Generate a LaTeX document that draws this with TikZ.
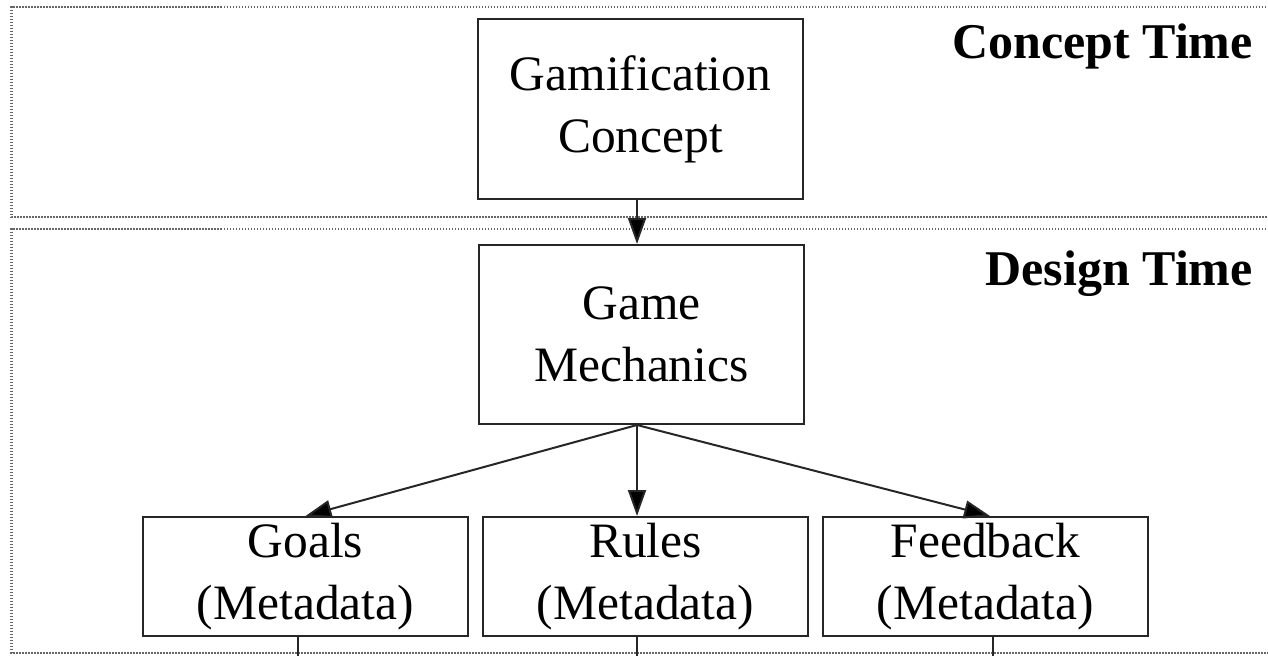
\documentclass[tikz,border=0pt]{standalone}
\usepackage{fontspec}
\setmainfont{Liberation Serif}
\usetikzlibrary{arrows.meta,calc}

\tikzset{
  box/.style={draw=black!85, line width=2pt, inner sep=0pt, align=center,
    minimum width=325pt, font=\fontsize{49.5}{62}\selectfont},
  link/.style={draw=black!85, line width=2pt,
    -{Triangle[length=26pt,width=18pt,fill=black]}},
  stub/.style={draw=black!85, line width=2pt},
  frame/.style={draw=black!60, line width=2.4pt, dash pattern=on 1.5pt off 1.5pt},
  phase/.style={anchor=base east, inner sep=0pt,
    font=\fontsize{50}{60}\selectfont\bfseries},
}

\begin{document}
\begin{tikzpicture}[x=1pt,y=-1pt]
\useasboundingbox (0,0) rectangle (1268,656);
\begin{scope}
\clip (0,0) rectangle (1268,656);
% phase frames (they run past the right edge)
\draw[frame] (1290,7) -- (11.5,7) -- (11.5,217) -- (1290,217);
\draw[frame] (1290,229) -- (11.5,229) -- (11.5,653) -- (1290,653);
\end{scope}

\node[phase] (concept) at (1253,58) {Concept Time};
\node[phase] (design) at (1253,285) {Design Time};

\node[box, minimum height=180pt] (gam) at (640.5,109)
  {Gamification\\Concept};
\node[box, minimum height=179pt] (mech) at (641.5,334.5)
  {Game\\Mechanics};
\node[box, minimum height=119pt] (goals) at (305.5,576.5)
  {Goals\\(Metadata)};
\node[box, minimum height=119pt] (rules) at (645.5,576.5)
  {Rules\\(Metadata)};
\node[box, minimum height=119pt] (feed) at (985.5,576.5)
  {Feedback\\(Metadata)};

% connector ends
\coordinate (gamout) at ($(gam.south)+(-3.5,0)$);
\coordinate (mechin) at (gamout |- mech.north);
\coordinate (hub) at ($(mech.south)+(-4.5,0)$);
\coordinate (goalsin) at (goals.north);
\coordinate (rulesin) at (hub |- rules.north);
\coordinate (feedin) at ($(feed.north)+(4.5,0)$);
\coordinate (goalsout) at ($(goals.south)+(-7.5,0)$);
\coordinate (rulesout) at ($(rules.south)+(-8.5,0)$);
\coordinate (feedout) at ($(feed.south)+(7.5,0)$);
\coordinate (goalsend) at (goalsout |- 0,656);
\coordinate (rulesend) at (rulesout |- 0,656);
\coordinate (feedend) at (feedout |- 0,656);

\draw[link] (gamout) -- (mechin);
\draw[link] (hub) -- (goalsin);
\draw[link] (hub) -- (rulesin);
\draw[link] (hub) -- (feedin);
\draw[stub] (goalsout) -- (goalsend);
\draw[stub] (rulesout) -- (rulesend);
\draw[stub] (feedout) -- (feedend);
\end{tikzpicture}
\end{document}
